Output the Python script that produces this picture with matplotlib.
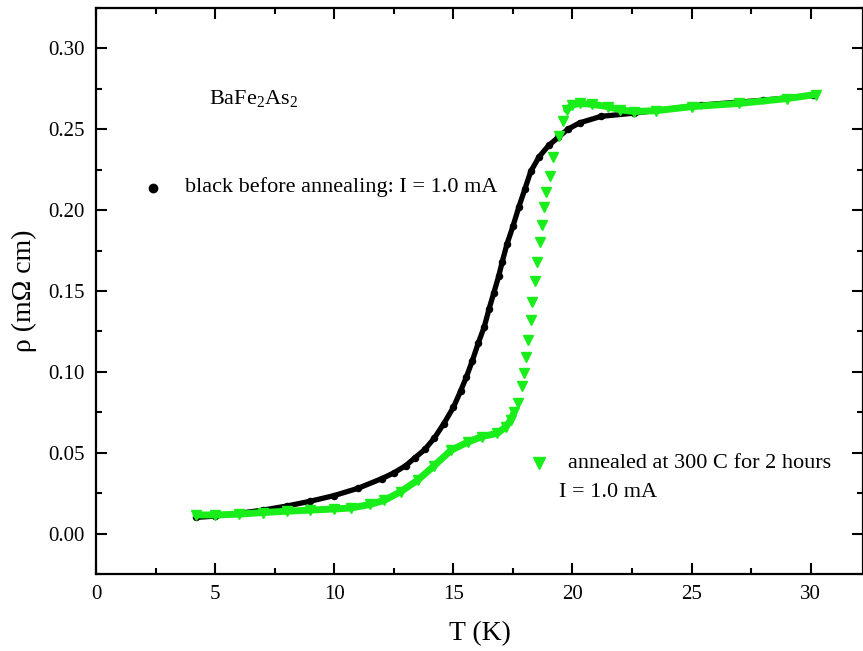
import numpy as np
import matplotlib
matplotlib.use("Agg")
import matplotlib.pyplot as plt

# black sample, before annealing (T in K, rho in mOhm cm)
black_T = [4.2, 5.0, 6.0, 7.0, 8.0, 9.0, 10.0, 11.0, 12.0, 12.5, 13.0, 13.4,
           13.8, 14.2, 14.6, 15.0, 15.3, 15.55, 15.8, 16.05, 16.3, 16.5, 16.7,
           16.9, 17.05, 17.25, 17.5, 17.75, 18.0, 18.25, 18.6, 19.0, 19.4, 19.8,
           20.3, 21.2, 22.6, 25.4, 28.0, 30.1]
black_rho = [0.010, 0.0108, 0.0125, 0.0145, 0.017, 0.020, 0.0235, 0.028, 0.034,
             0.0375, 0.042, 0.047, 0.052, 0.059, 0.068, 0.078, 0.088, 0.097,
             0.107, 0.118, 0.128, 0.139, 0.149, 0.159, 0.168, 0.179, 0.190,
             0.202, 0.213, 0.224, 0.233, 0.240, 0.245, 0.250, 0.254, 0.258,
             0.260, 0.265, 0.268, 0.271]

# green sample, annealed at 300 C for 2 hours
green_T = [4.2, 5.0, 6.0, 7.0, 8.0, 9.0, 10.0, 10.7, 11.5, 12.1, 12.8, 13.5,
           14.2, 14.9, 15.6, 16.2, 16.85, 17.2, 17.4, 17.55,
           17.7, 17.9, 17.97, 18.05, 18.15, 18.25, 18.32, 18.42, 18.52, 18.62,
           18.72, 18.8, 18.9, 19.05, 19.2, 19.45, 19.6,
           19.75, 20.0, 20.3, 20.8, 21.5, 22.0, 22.6, 23.5, 25.0, 27.0, 29.0, 30.2]
green_rho = [0.0115, 0.0115, 0.012, 0.013, 0.0138, 0.0145, 0.0152, 0.0158, 0.018,
             0.0205, 0.026, 0.033, 0.042, 0.0515, 0.0565, 0.060, 0.062, 0.066,
             0.070, 0.075,
             0.081, 0.091, 0.099, 0.109, 0.120, 0.132, 0.143, 0.156, 0.168,
             0.180, 0.191, 0.202, 0.211, 0.221, 0.233, 0.246, 0.255,
             0.262, 0.265, 0.266, 0.2655, 0.264, 0.262, 0.261, 0.2615, 0.264,
             0.266, 0.269, 0.2715]

plt.rcParams['font.family'] = ['Liberation Serif', 'DejaVu Serif']
plt.rcParams['mathtext.fontset'] = 'custom'
plt.rcParams['mathtext.rm'] = 'Liberation Serif'

GREEN = '#1aee1a'

fig = plt.figure(figsize=(8.63, 6.51), dpi=100)
ax = fig.add_axes([0.1112, 0.1183, 0.889, 0.8694])

bT = np.array(black_T)
br = np.array(black_rho)
ax.plot(bT, br, '-', color='black', lw=3.8, solid_capstyle='round', zorder=2)
ax.plot(bT, br, 'o', color='black', ms=4.4, zorder=2)

gT = np.array(green_T)
gr = np.array(green_rho)
steep = (gT > 17.6) & (gT < 19.7)
gline = np.where(steep, np.nan, gr)
ax.plot(gT, gline, '-', color=GREEN, lw=5, solid_capstyle='round', zorder=3)
ax.plot(gT, gr, 'v', color=GREEN, ms=6.5, mec=GREEN, zorder=3)

# in-plot labels
ax.text(4.75, 0.269, r'$\mathrm{BaFe_2As_2}$', fontsize=16, va='center')
ax.plot([2.4], [0.214], 'o', color='black', ms=6)
ax.text(3.75, 0.214, 'black before annealing: I = 1.0 mA', fontsize=16, va='center')
ax.plot([18.6], [0.0435], 'v', color=GREEN, ms=9, mec=GREEN)
ax.text(19.8, 0.0435, 'annealed at 300 C for 2 hours', fontsize=16, va='center')
ax.text(19.45, 0.0255, 'I = 1.0 mA', fontsize=16, va='center')

ax.set_xlim(0, 32.2)
ax.set_ylim(-0.025, 0.325)
ax.set_xticks(np.arange(0, 31, 5))
ax.set_xticks(np.arange(2.5, 32, 5), minor=True)
ax.set_yticks(np.arange(0, 0.301, 0.05))
ax.set_yticks(np.arange(-0.025, 0.33, 0.05), minor=True)
ax.yaxis.set_major_formatter(matplotlib.ticker.FormatStrFormatter('%.2f'))

ax.tick_params(which='both', direction='in', top=True, right=True,
               labelsize=15, width=1.5, pad=8)
ax.tick_params(which='major', length=8)
ax.tick_params(which='minor', length=4)
for s in ax.spines.values():
    s.set_linewidth(1.6)

ax.set_xlabel('T (K)', fontsize=20, labelpad=12)
ax.set_ylabel('ρ (mΩ cm)', fontsize=20, labelpad=8)

fig.savefig('out.png', dpi=100)
